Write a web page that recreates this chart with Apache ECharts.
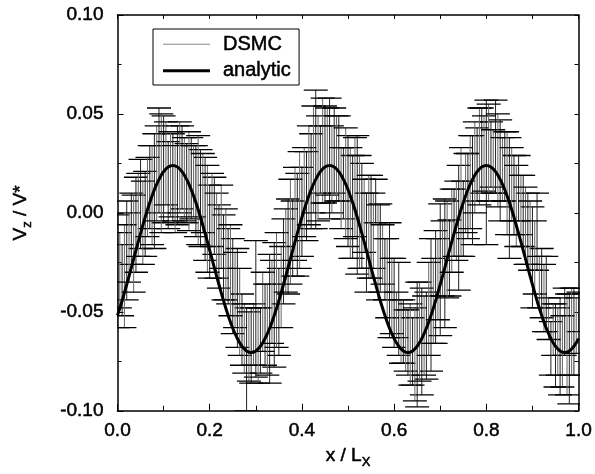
<!DOCTYPE html>
<html>
<head>
<meta charset="utf-8">
<script src="https://cdn.jsdelivr.net/npm/echarts@6/dist/echarts.min.js"></script>
<style>html,body{margin:0;padding:0;background:#fff;}#c{width:595px;height:474px;}</style>
</head>
<body>
<div id="c"></div>
<script>
// x positions (x / Lx) of the analytic curve and first DSMC set
const xs = [0.00,0.01,0.02,0.03,0.04,0.05,0.06,0.07,0.08,0.09,0.10,0.11,0.12,0.13,0.14,0.15,0.16,0.17,0.18,0.19,0.20,0.21,0.22,0.23,0.24,0.25,0.26,0.27,0.28,0.29,0.30,0.31,0.32,0.33,0.34,0.35,0.36,0.37,0.38,0.39,0.40,0.41,0.42,0.43,0.44,0.45,0.46,0.47,0.48,0.49,0.50,0.51,0.52,0.53,0.54,0.55,0.56,0.57,0.58,0.59,0.60,0.61,0.62,0.63,0.64,0.65,0.66,0.67,0.68,0.69,0.70,0.71,0.72,0.73,0.74,0.75,0.76,0.77,0.78,0.79,0.80,0.81,0.82,0.83,0.84,0.85,0.86,0.87,0.88,0.89,0.90,0.91,0.92,0.93,0.94,0.95,0.96,0.97,0.98,0.99,1.00];

// analytic curve Vz/V*
const analytic = [-0.0518,-0.0444,-0.0362,-0.0277,-0.0189,-0.0104,-0.0022,0.0052,0.0117,0.0169,0.0208,0.0232,0.0240,0.0232,0.0208,0.0169,0.0117,0.0052,-0.0022,-0.0104,-0.0189,-0.0277,-0.0362,-0.0444,-0.0518,-0.0583,-0.0635,-0.0674,-0.0698,-0.0706,-0.0698,-0.0674,-0.0635,-0.0583,-0.0518,-0.0444,-0.0362,-0.0277,-0.0189,-0.0104,-0.0022,0.0052,0.0117,0.0169,0.0208,0.0232,0.0240,0.0232,0.0208,0.0169,0.0117,0.0052,-0.0022,-0.0104,-0.0189,-0.0277,-0.0362,-0.0444,-0.0518,-0.0583,-0.0635,-0.0674,-0.0698,-0.0706,-0.0698,-0.0674,-0.0635,-0.0583,-0.0518,-0.0444,-0.0362,-0.0277,-0.0189,-0.0104,-0.0022,0.0052,0.0117,0.0169,0.0208,0.0232,0.0240,0.0232,0.0208,0.0169,0.0117,0.0052,-0.0022,-0.0104,-0.0189,-0.0277,-0.0362,-0.0444,-0.0518,-0.0583,-0.0635,-0.0674,-0.0698,-0.0706,-0.0698,-0.0674,-0.0635];

// DSMC error bars, set A (at xs): lower and upper ends
const dsmcLow = [-0.058,-0.052,-0.044,-0.026,-0.030,-0.018,-0.022,-0.008,-0.018,0.000,-0.005,-0.008,-0.004,-0.006,0.002,-0.005,-0.003,-0.012,-0.017,-0.024,-0.033,-0.021,-0.038,-0.044,-0.046,-0.061,-0.068,-0.077,-0.100,-0.086,-0.083,-0.081,-0.077,-0.086,-0.078,-0.072,-0.046,-0.041,-0.032,-0.032,-0.022,-0.014,-0.008,-0.008,0.010,0.005,-0.003,0.010,0.006,-0.003,-0.017,-0.023,-0.031,-0.028,-0.040,-0.033,-0.005,-0.040,-0.044,-0.063,-0.068,-0.072,-0.076,-0.082,-0.087,-0.098,-0.092,-0.084,-0.080,-0.066,-0.062,-0.058,-0.042,-0.022,-0.039,-0.022,-0.013,-0.016,0.006,0.010,-0.016,0.013,0.010,-0.004,0.006,-0.023,-0.011,-0.004,-0.017,-0.026,-0.048,-0.029,-0.053,-0.060,-0.082,-0.088,-0.092,-0.072,-0.0965,-0.082,-0.060];
const dsmcHigh = [-0.001,-0.016,0.006,0.010,0.018,0.027,0.021,0.034,0.040,0.053,0.049,0.036,0.040,0.044,0.044,0.035,0.038,0.034,0.032,0.028,0.014,0.018,0.004,-0.001,-0.008,-0.013,-0.018,-0.041,-0.048,-0.048,-0.014,-0.048,-0.036,-0.021,-0.015,-0.028,-0.003,0.007,0.006,0.020,0.023,0.031,0.040,0.062,0.044,0.054,0.058,0.053,0.049,0.033,0.039,0.029,0.039,0.025,0.010,0.019,0.017,0.0045,-0.013,-0.005,-0.023,-0.025,-0.044,-0.049,-0.053,-0.035,-0.038,-0.040,-0.013,-0.009,0.0045,0.007,-0.0035,0.012,0.024,0.016,0.030,0.039,0.043,0.053,0.057,0.046,0.057,0.047,0.041,0.038,0.029,0.029,0.019,0.010,0.003,0.010,-0.018,-0.022,-0.055,-0.046,-0.043,-0.038,-0.041,-0.038,-0.040];

// DSMC error bars, set B (interleaved, at xs2)
const xs2 = [0.005,0.015,0.025,0.035,0.045,0.055,0.065,0.075,0.085,0.095,0.105,0.115,0.125,0.135,0.145,0.155,0.165,0.175,0.185,0.195,0.205,0.215,0.225,0.235,0.245,0.255,0.265,0.275,0.285,0.295,0.305,0.315,0.325,0.335,0.345,0.355,0.365,0.375,0.385,0.395,0.405,0.415,0.425,0.435,0.445,0.455,0.465,0.475,0.485,0.495,0.505,0.515,0.525,0.535,0.545,0.555,0.565,0.575,0.585,0.595,0.605,0.615,0.625,0.635,0.645,0.655,0.665,0.675,0.685,0.695,0.705,0.715,0.725,0.735,0.745,0.755,0.765,0.775,0.785,0.795,0.805,0.815,0.825,0.835,0.845,0.855,0.865,0.875,0.885,0.895,0.905,0.915,0.925,0.935,0.945,0.955,0.965,0.975,0.985,0.995];
const dsmcLow2 = [-0.048,-0.058,-0.035,-0.040,-0.022,-0.026,-0.012,-0.016,-0.004,-0.010,0.004,-0.002,-0.010,0.000,-0.004,-0.009,-0.002,-0.016,-0.010,-0.030,-0.017,-0.033,-0.028,-0.044,-0.052,-0.058,-0.072,-0.081,-0.085,-0.077,-0.086,-0.070,-0.082,-0.066,-0.068,-0.058,-0.040,-0.036,-0.024,-0.028,-0.012,-0.006,0.000,-0.004,0.005,0.009,0.000,0.006,-0.008,-0.013,-0.023,-0.012,-0.028,-0.020,-0.033,-0.028,-0.044,-0.036,-0.053,-0.061,-0.063,-0.076,-0.080,-0.087,-0.095,-0.085,-0.082,-0.072,-0.066,-0.054,-0.042,-0.043,-0.030,-0.024,-0.022,-0.010,-0.008,0.000,0.004,0.011,0.006,0.010,0.003,0.006,-0.011,-0.004,-0.017,-0.011,-0.026,-0.029,-0.041,-0.048,-0.060,-0.064,-0.072,-0.082,-0.088,-0.092,-0.082,-0.071];
const dsmcHigh2 = [-0.010,-0.006,0.000,0.009,0.020,0.016,0.028,0.034,0.044,0.050,0.046,0.041,0.034,0.046,0.038,0.041,0.034,0.039,0.030,0.024,0.020,0.010,0.014,0.002,-0.006,-0.020,-0.028,-0.046,-0.050,-0.046,-0.048,-0.030,-0.036,-0.024,-0.010,-0.017,0.002,0.017,0.023,0.031,0.033,0.044,0.054,0.049,0.058,0.053,0.044,0.049,0.033,0.043,0.033,0.038,0.029,0.017,0.019,0.010,0.004,-0.006,-0.013,-0.023,-0.040,-0.044,-0.049,-0.046,-0.048,-0.035,-0.042,-0.025,-0.023,-0.013,-0.004,0.006,0.012,0.016,0.033,0.030,0.039,0.046,0.053,0.049,0.055,0.042,0.050,0.038,0.041,0.033,0.024,0.019,0.013,0.006,-0.004,-0.022,-0.026,-0.043,-0.046,-0.048,-0.052,-0.041,-0.038,-0.043];

const xTickLabels = ['0.0','0.2','0.4','0.6','0.8','1.0'];
const yTickLabels = ['-0.10','-0.05','0.00','0.05','0.10'];

const FONT = 'Arial, "Liberation Sans", Helvetica, sans-serif';
const TXT = { fontFamily: FONT, color: '#000', textBorderColor: '#000', textBorderWidth: 0.5 };
const chart = echarts.init(document.getElementById('c'));

const errData = xs.map((x, i) => [x, dsmcLow[i], dsmcHigh[i], 0])
  .concat(xs2.map((x, i) => [x, dsmcLow2[i], dsmcHigh2[i], 1]));
const lineData = xs.map((x, i) => [x, analytic[i]]);

chart.setOption({
  animation: false,
  backgroundColor: '#fff',
  grid: { left: 117.5, right: 16, top: 15, bottom: 57, containLabel: false },
  legend: {
    orient: 'vertical',
    left: 153, top: 29,
    padding: [5, 8, 4, 10],
    itemGap: 6,
    itemWidth: 47, itemHeight: 3,
    borderColor: '#000', borderWidth: 1,
    backgroundColor: '#fff',
    textStyle: Object.assign({ fontSize: 20, padding: [0, 0, 0, 8] }, TXT),
    data: [
      { name: 'DSMC', icon: 'path://M0,0H47V1H0Z', itemStyle: { color: '#888' } },
      { name: 'analytic', icon: 'path://M0,0H47V3H0Z', itemStyle: { color: '#000' } }
    ]
  },
  xAxis: [{
    type: 'value', min: 0, max: 1, interval: 0.2,
    name: '{a|x / L}{s|X}', nameLocation: 'middle', nameGap: 33,
    nameTextStyle: { rich: {
      a: Object.assign({ fontSize: 19 }, TXT),
      s: Object.assign({ fontSize: 13, padding: [12, 0, 0, 0] }, TXT) } },
    axisLine: { onZero: false, lineStyle: { color: '#000', width: 1.5 } },
    axisTick: { inside: true, length: 7, lineStyle: { color: '#000', width: 1 } },
    minorTick: { show: true, splitNumber: 2, length: 5, lineStyle: { color: '#000', width: 1 } },
    splitLine: { show: false },
    axisLabel: Object.assign({ margin: 11, fontSize: 19,
      formatter: v => xTickLabels[Math.round(v / 0.2)] }, TXT)
  }, {
    type: 'value', min: 0, max: 1, interval: 0.1, position: 'top',
    axisLine: { show: true, onZero: false, lineStyle: { color: '#000', width: 1.5 } },
    axisTick: { inside: true, length: 4, lineStyle: { color: '#000', width: 1 } },
    axisLabel: { show: false }, splitLine: { show: false }
  }],
  yAxis: [{
    type: 'value', min: -0.1, max: 0.1, interval: 0.05,
    name: '{a|V}{s|z}{a| / V*}', nameLocation: 'middle', nameGap: 84, nameRotate: 90,
    nameTextStyle: { rich: {
      a: Object.assign({ fontSize: 19 }, TXT),
      s: Object.assign({ fontSize: 13, padding: [12, 0, 0, 0] }, TXT) } },
    axisLine: { onZero: false, lineStyle: { color: '#000', width: 1.5 } },
    axisTick: { inside: true, length: 6, lineStyle: { color: '#000', width: 1 } },
    minorTick: { show: true, splitNumber: 2, length: 4, lineStyle: { color: '#000', width: 1 } },
    splitLine: { show: false },
    axisLabel: Object.assign({ margin: 14, fontSize: 19,
      formatter: v => yTickLabels[Math.round((v + 0.1) / 0.05)] }, TXT)
  }, {
    type: 'value', min: -0.1, max: 0.1, interval: 0.025, position: 'right',
    axisLine: { show: true, onZero: false, lineStyle: { color: '#000', width: 1.5 } },
    axisTick: { inside: true, length: 4, lineStyle: { color: '#000', width: 1 } },
    axisLabel: { show: false }, splitLine: { show: false }
  }],
  series: [{
    name: 'DSMC',
    type: 'custom',
    clip: true,
    z: 2,
    data: errData,
    renderItem: function (params, api) {
      const x = api.value(0);
      const pLo = api.coord([x, api.value(1)]);
      const pHi = api.coord([x, api.value(2)]);
      const hw = 12;
      const vc = api.value(3) === 0 ? '#222' : '#666';
      return {
        type: 'group',
        children: [
          { type: 'line', shape: { x1: pLo[0], y1: pLo[1], x2: pHi[0], y2: pHi[1] },
            style: { stroke: vc, lineWidth: 1 } },
          { type: 'line', shape: { x1: pLo[0] - hw, y1: pLo[1], x2: pLo[0] + hw, y2: pLo[1] },
            style: { stroke: '#000', lineWidth: 1.3 } },
          { type: 'line', shape: { x1: pHi[0] - hw, y1: pHi[1], x2: pHi[0] + hw, y2: pHi[1] },
            style: { stroke: '#000', lineWidth: 1.3 } }
        ]
      };
    }
  }, {
    name: 'analytic',
    type: 'line',
    data: lineData,
    showSymbol: false,
    smooth: true,
    z: 5,
    lineStyle: { color: '#000', width: 3 },
    itemStyle: { color: '#000' }
  }]
});
</script>
</body>
</html>
